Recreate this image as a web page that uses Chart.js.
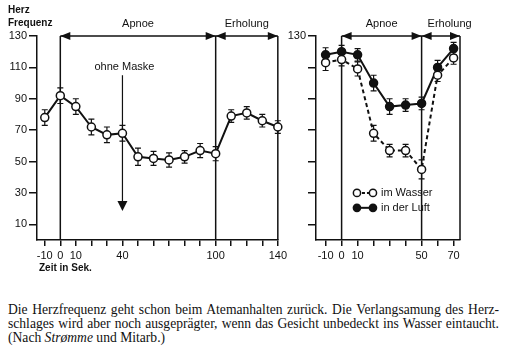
<!DOCTYPE html>
<html><head><meta charset="utf-8">
<script src="https://cdn.jsdelivr.net/npm/chart.js@4.4.1/dist/chart.umd.min.js"></script>
<style>
html,body{margin:0;padding:0;background:#fff;width:506px;height:354px;overflow:hidden;}
#c1{position:absolute;left:0;top:0;}
#c2{position:absolute;left:284px;top:0;}
#cap{position:absolute;left:8px;top:303px;width:491px;font-family:"Liberation Serif","Times New Roman",serif;font-size:13px;line-height:14px;color:#111;}
#cap div{white-space:nowrap;}
#cap .j{text-align:justify;text-align-last:justify;}
</style></head>
<body>
<canvas id="c1" width="290" height="280"></canvas>
<canvas id="c2" width="222" height="280"></canvas>
<div id="cap">
<div class="j">Die Herzfrequenz geht schon beim Atemanhalten zurück. Die Verlangsamung des Herz-</div>
<div class="j">schlages wird aber noch ausgeprägter, wenn das Gesicht unbedeckt ins Wasser eintaucht.</div>
<div>(Nach <i>Strømme</i> und Mitarb.)</div>
</div>
<script>
// ---- data ----
const leftX = [-10,0,10,20,30,40,50,60,70,80,90,100,110,120,130,140];
const leftHR = [78,92,85,72,67,68,53,52,51,53,57,55,79,81,76,72];
const leftErr = [5,5,5,5,5,5,5.5,4.5,4.5,4,4.5,4.5,4,4,4,4];
const rightX = [-10,0,10,20,30,40,50,60,70];
const wasserHR = [113,115,109,68,57,57,45,105,116];
const wasserErr = [5,4,4.5,5,4,4,6,4,4];
const luftHR = [118,120,118,100,85,86,87,110,122];
const luftErr = [4.5,4,4,5,5,4,4,4.5,4];
const yTicks = [130,110,90,70,50,30,10];
const leftYLabels = [130,110,90,70,50,30,10];
const rightYLabels = [130];
const leftXTicks = [-10,0,10,20,30,40,50,60,70,80,90,100,110,120,130,140];
const leftXLabels = [-10,0,10,40,100,140];
const rightXTicks = [-10,0,10,20,30,40,50,60,70];
const rightXLabels = [-10,0,10,50,70];
const seriesLabels = ['im Wasser','in der Luft'];

// fit caption font so the justified lines keep natural spacing
(function(){
  const c=document.createElement('canvas').getContext('2d');
  const lines=[...document.querySelectorAll('#cap .j')].map(d=>d.textContent);
  let fs=14;
  for(;fs>10;fs-=0.1){
    c.font=fs+"px 'Liberation Serif'";
    if(Math.max(...lines.map(l=>c.measureText(l).width))<=486) break;
  }
  document.getElementById('cap').style.fontSize=fs.toFixed(1)+'px';
})();

Chart.defaults.font.family = "'Liberation Sans', Arial, sans-serif";
Chart.defaults.color = '#111';
const INK = '#111';

function xScale(min,max,ticks,labels){
  return {type:'linear',min:min,max:max,
    afterBuildTicks:s=>{s.ticks=ticks.map(v=>({value:v}));},
    afterFit:s=>{s.height=40;},
    grid:{drawOnChartArea:false,drawTicks:true,tickLength:6,color:INK,lineWidth:1.5},
    border:{display:true,color:INK,width:1.5},
    ticks:{color:INK,font:{size:11},padding:3,maxRotation:0,autoSkip:false,
      callback:(v)=>labels.includes(v)?String(v):''}};
}
function yScale(width,labels){
  return {type:'linear',min:0,max:130,
    afterBuildTicks:s=>{s.ticks=yTicks.map(v=>({value:v}));},
    afterFit:s=>{s.width=width;},
    grid:{drawOnChartArea:false,drawTicks:true,tickLength:8,color:INK,lineWidth:1.5},
    border:{display:true,color:INK,width:1.5},
    ticks:{color:INK,font:{size:11},padding:2,autoSkip:false,
      callback:(v)=>labels.includes(v)?String(v):''}};
}
function toPts(xs,ys){return xs.map((x,i)=>({x:x,y:ys[i]}));}

function head(ctx,x,y,dir){
  ctx.beginPath();
  if(dir==='l'){ctx.moveTo(x,y);ctx.lineTo(x+10,y-4);ctx.lineTo(x+10,y+4);}
  else if(dir==='r'){ctx.moveTo(x,y);ctx.lineTo(x-10,y-4);ctx.lineTo(x-10,y+4);}
  else {ctx.moveTo(x,y);ctx.lineTo(x-5,y-10);ctx.lineTo(x+5,y-10);}
  ctx.closePath();ctx.fill();
}
function errBars(chart,errs){
  const ctx=chart.ctx, y=chart.scales.y;
  chart.data.datasets.forEach((ds,di)=>{
    const meta=chart.getDatasetMeta(di);
    meta.data.forEach((p,i)=>{
      const v=ds.data[i].y, e=errs[di][i];
      const t=y.getPixelForValue(v+e), b=y.getPixelForValue(v-e);
      ctx.beginPath();
      ctx.moveTo(p.x,t);ctx.lineTo(p.x,b);
      ctx.moveTo(p.x-3,t);ctx.lineTo(p.x+3,t);
      ctx.moveTo(p.x-3,b);ctx.lineTo(p.x+3,b);
      ctx.stroke();
    });
  });
}
function phases(chart,bounds,labels,labelPos){
  const ctx=chart.ctx, xs=chart.scales.x, ys=chart.scales.y;
  const top=ys.getPixelForValue(130), bot=ys.getPixelForValue(0);
  ctx.lineWidth=1.5;
  bounds.forEach(b=>{const x=xs.getPixelForValue(b);ctx.beginPath();ctx.moveTo(x,top);ctx.lineTo(x,bot);ctx.stroke();});
  ctx.beginPath();ctx.moveTo(xs.getPixelForValue(bounds[0]),top);ctx.lineTo(xs.getPixelForValue(bounds[bounds.length-1]),top);ctx.stroke();
  for(let i=0;i<bounds.length-1;i++){
    head(ctx,xs.getPixelForValue(bounds[i]),top,'l');
    head(ctx,xs.getPixelForValue(bounds[i+1]),top,'r');
  }
  ctx.font="11px 'Liberation Sans', Arial, sans-serif";
  ctx.textAlign='center';ctx.textBaseline='middle';
  labels.forEach((t,i)=>ctx.fillText(t,xs.getPixelForValue(labelPos[i]),24));
}

const leftPlugin={id:'leftAnno',
  beforeDatasetsDraw(chart){
    const ctx=chart.ctx, xs=chart.scales.x, ys=chart.scales.y;
    ctx.save();ctx.strokeStyle=INK;ctx.fillStyle=INK;
    phases(chart,[0,100,140],['Apnoe','Erholung'],[50,120]);
    const ax=xs.getPixelForValue(40);
    ctx.fillText('ohne Maske',ax+2,ys.getPixelForValue(110));
    ctx.lineWidth=1.2;
    ctx.beginPath();ctx.moveTo(ax,ys.getPixelForValue(105));ctx.lineTo(ax,ys.getPixelForValue(23));ctx.stroke();
    head(ctx,ax,ys.getPixelForValue(18.5),'d');
    ctx.font="bold 10px 'Liberation Sans', Arial, sans-serif";
    ctx.textAlign='left';
    ctx.fillText('Herz',8,10);
    ctx.fillText('Frequenz',8,23);
    ctx.fillText('Zeit in Sek.',39,268);
    ctx.lineWidth=1.2;
    errBars(chart,[leftErr]);
    ctx.restore();
  }};
const rightPlugin={id:'rightAnno',
  beforeDatasetsDraw(chart){
    const ctx=chart.ctx;
    ctx.save();ctx.strokeStyle=INK;ctx.fillStyle=INK;
    phases(chart,[0,50,74],['Apnoe','Erholung'],[25,67.5]);
    ctx.lineWidth=1.2;
    errBars(chart,[wasserErr,luftErr]);
    ctx.restore();
  },
  afterDatasetsDraw(chart){
    const ctx=chart.ctx, xs=chart.scales.x, ys=chart.scales.y;
    ctx.save();ctx.strokeStyle=INK;ctx.fillStyle=INK;
    const x1=xs.getPixelForValue(9.6), x2=xs.getPixelForValue(19.6);
    [[30,true],[20.5,false]].forEach((r,i)=>{
      const y=ys.getPixelForValue(r[0]);
      ctx.lineWidth=2;ctx.setLineDash(r[1]?[3,2]:[]);
      ctx.beginPath();ctx.moveTo(x1,y);ctx.lineTo(x2,y);ctx.stroke();
      ctx.setLineDash([]);ctx.lineWidth=1.5;
      [x1,x2].forEach(x=>{ctx.beginPath();ctx.arc(x,y,3.6,0,Math.PI*2);ctx.fillStyle=r[1]?'#fff':INK;ctx.fill();ctx.stroke();});
      ctx.fillStyle=INK;
      ctx.font="11px 'Liberation Sans', Arial, sans-serif";
      ctx.textAlign='left';ctx.textBaseline='middle';
      ctx.fillText(seriesLabels[i],x2+8,y);
    });
    ctx.restore();
  }};

const common={responsive:false,animation:false,
  plugins:{legend:{display:false},tooltip:{enabled:false}}};

new Chart(document.getElementById('c1'),{
  type:'line',
  data:{datasets:[{label:'Herzfrequenz',data:toPts(leftX,leftHR),borderColor:INK,borderWidth:2,
    pointRadius:4,pointBorderWidth:1.5,pointBackgroundColor:'#fff',pointBorderColor:INK,clip:false,tension:0}]},
  options:Object.assign({},common,{layout:{padding:{left:0,top:36,right:7,bottom:0}},
    scales:{x:xScale(-15,140,leftXTicks,leftXLabels),y:yScale(37,leftYLabels)}}),
  plugins:[leftPlugin]});

new Chart(document.getElementById('c2'),{
  type:'line',
  data:{datasets:[
    {label:seriesLabels[0],data:toPts(rightX,wasserHR),borderColor:INK,borderWidth:2,borderDash:[4,3],
      pointRadius:4,pointBorderWidth:1.5,pointBackgroundColor:'#fff',pointBorderColor:INK,clip:false,tension:0},
    {label:seriesLabels[1],data:toPts(rightX,luftHR),borderColor:INK,borderWidth:2,
      pointRadius:4,pointBorderWidth:1.5,pointBackgroundColor:INK,pointBorderColor:INK,clip:false,tension:0}]},
  options:Object.assign({},common,{layout:{padding:{left:0,top:36,right:46,bottom:0}},
    scales:{x:xScale(-16,74,rightXTicks,rightXLabels),y:yScale(32,rightYLabels)}}),
  plugins:[rightPlugin]});
</script>
</body></html>
